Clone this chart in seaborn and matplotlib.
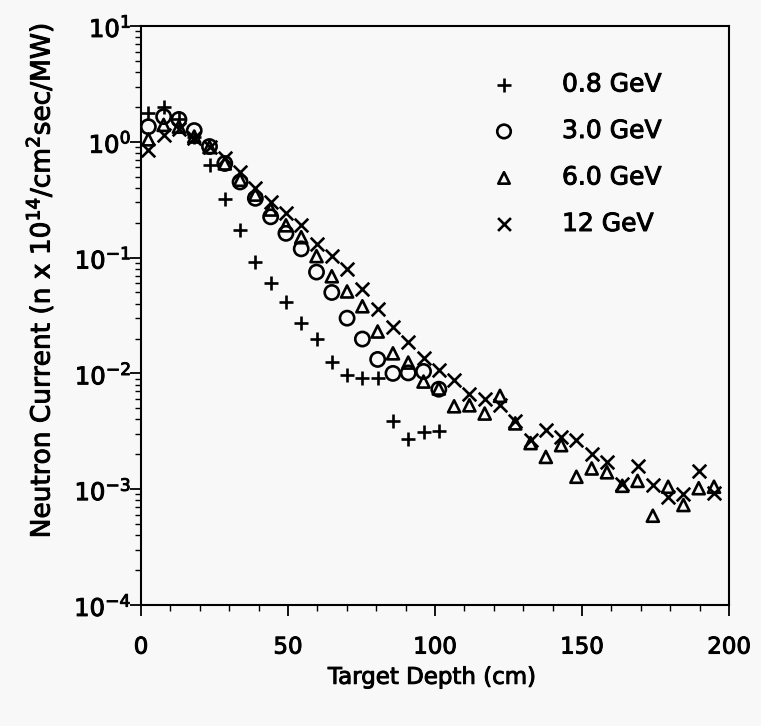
import matplotlib
matplotlib.use("Agg")
import matplotlib.pyplot as plt
import matplotlib.patheffects as pe
import seaborn as sns
import numpy as np
from matplotlib.ticker import MultipleLocator, LogLocator, NullFormatter, FixedLocator

# ---------------- data ----------------
depth_cm = [2.5, 7.7, 12.9, 18.1, 23.3, 28.5, 33.7, 38.9, 44.1, 49.3,
            54.5, 59.7, 64.9, 70.1, 75.3, 80.5, 85.7, 90.9, 96.1, 101.3,
            106.5, 111.7, 116.9, 122.1, 127.3, 132.5, 137.7, 142.9, 148.1, 153.3,
            158.5, 163.7, 168.9, 174.1, 179.3, 184.5, 189.7, 194.9]

current_0p8GeV = [1.76, 2.01, 1.56, 1.10, 0.63, 0.32, 0.173, 0.092, 0.060, 0.041,
                  0.027, 0.020, 0.0126, 0.0097, 0.0092, 0.0092, 0.0039, 0.0027, 0.0031, 0.0032]

current_3GeV = [1.35, 1.65, 1.56, 1.25, 0.91, 0.65, 0.45, 0.325, 0.225, 0.162,
                0.119, 0.075, 0.050, 0.030, 0.0198, 0.0132, 0.0100, 0.0101, 0.0104, 0.0073]

current_6GeV = [1.05, 1.40, 1.35, 1.11, 0.90, 0.65, 0.47, 0.35, 0.26, 0.19,
                0.15, 0.103, 0.069, 0.051, 0.038, 0.023, 0.0149, 0.0124, 0.0085, 0.0074,
                0.0052, 0.0053, 0.0045, 0.0064, 0.0037, 0.0025, 0.0019, 0.0024, 0.00128, 0.00151,
                0.00140, 0.00107, 0.00118, 0.00059, 0.00105, 0.00073, 0.00102, 0.00105]

current_12GeV = [0.85, 1.15, 1.28, 1.07, 0.90, 0.72, 0.55, 0.40, 0.30, 0.245,
                 0.19, 0.131, 0.103, 0.079, 0.054, 0.036, 0.025, 0.0186, 0.0135, 0.0107,
                 0.0088, 0.0067, 0.0060, 0.0053, 0.0039, 0.00266, 0.00324, 0.0028, 0.00266, 0.0020,
                 0.00173, 0.00112, 0.00158, 0.00109, 0.00086, 0.00090, 0.00144, 0.00093]

series_labels = ["0.8 GeV", "3.0 GeV", "6.0 GeV", "12 GeV"]
x_ticks = [0, 50, 100, 150, 200]

# ---------------- style ----------------
sns.set_style("ticks")
plt.rcParams["font.family"] = ["DejaVu Sans"]
plt.rcParams["mathtext.fontset"] = "dejavusans"
for key in ["text.color", "axes.labelcolor", "xtick.color", "ytick.color", "axes.edgecolor"]:
    plt.rcParams[key] = "black"
bg = "#f8f8f8"
heavy = [pe.withStroke(linewidth=0.7, foreground="black")]

fig = plt.figure(figsize=(7.61, 7.26), dpi=100, facecolor=bg)
ax = fig.add_axes([141 / 761, 1 - 605 / 726, (729 - 141) / 761, (605 - 26) / 726])
ax.set_facecolor(bg)

lw = 1.9
sns.scatterplot(x=depth_cm[:len(current_0p8GeV)], y=current_0p8GeV, marker="+", s=115,
                color="black", linewidth=lw, label=series_labels[0], ax=ax)
sns.scatterplot(x=depth_cm[:len(current_3GeV)], y=current_3GeV, marker="o", s=105,
                facecolor="none", edgecolor="black", linewidth=lw, label=series_labels[1], ax=ax)
sns.scatterplot(x=depth_cm[:len(current_6GeV)], y=current_6GeV, marker="^", s=75,
                facecolor="none", edgecolor="black", linewidth=lw, label=series_labels[2], ax=ax)
sns.scatterplot(x=depth_cm[:len(current_12GeV)], y=current_12GeV, marker="x", s=95,
                color="black", linewidth=lw, label=series_labels[3], ax=ax)

ax.set_yscale("log")
ax.set_ylim(1e-4, 10)
ax.set_xlim(0, 200)
ax.xaxis.set_major_locator(FixedLocator(x_ticks))
ax.xaxis.set_minor_locator(MultipleLocator(10))
ax.yaxis.set_major_locator(LogLocator(base=10, numticks=10))
ax.yaxis.set_minor_locator(LogLocator(base=10, subs=np.arange(2, 10), numticks=20))
ax.yaxis.set_minor_formatter(NullFormatter())

for sp in ax.spines.values():
    sp.set_linewidth(1.5)
    sp.set_color("black")

ax.tick_params(axis="both", which="major", direction="out", length=8, width=1.3,
               labelsize=16.5, colors="black")
ax.tick_params(axis="both", which="minor", direction="out", length=4, width=1.0)
ax.tick_params(axis="x", which="major", pad=14)
ax.tick_params(axis="y", which="major", pad=-1, labelsize=17.5)

ax.set_xlabel("Target Depth (cm)", fontsize=16.5)
ax.xaxis.set_label_coords(0.495, -0.105)
ax.set_ylabel(r"Neutron Current (n x 10$^{14}$/cm$^{2}$sec/MW)", fontsize=19)
ax.yaxis.set_label_coords(-0.145, 0.56)

leg = ax.legend(loc="upper left", bbox_to_anchor=((491.5 - 141) / 588, (605 - 72.5) / 579),
                frameon=False, borderpad=0, borderaxespad=0, handlelength=1.0,
                handletextpad=1.82, labelspacing=0.9, fontsize=18, markerscale=0.95)

texts = ax.get_xticklabels() + ax.get_yticklabels() + [ax.xaxis.label, ax.yaxis.label] + leg.get_texts()
for t in texts:
    t.set_path_effects(heavy)

fig.savefig("out.png", dpi=100, facecolor=bg)
